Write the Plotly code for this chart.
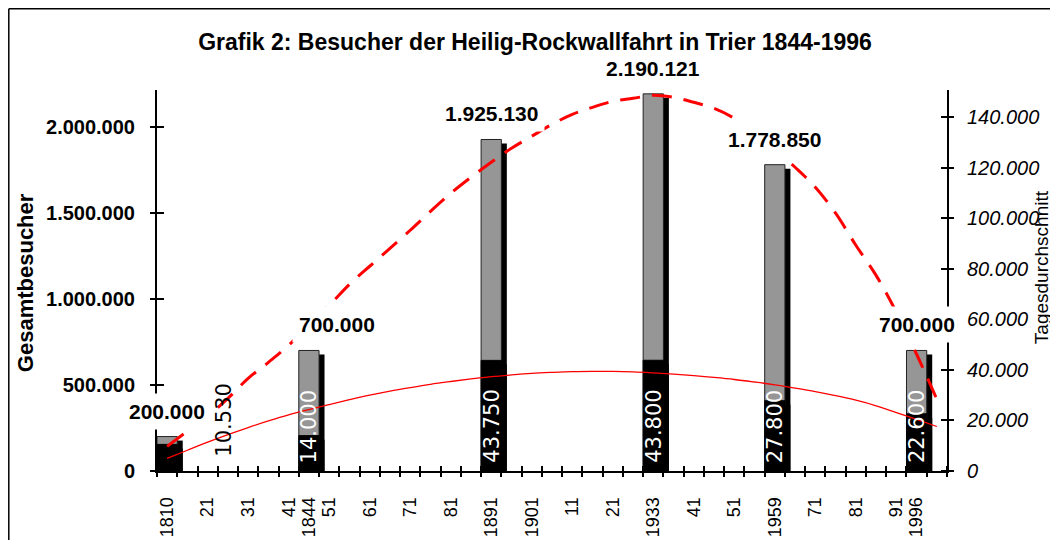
import plotly.graph_objects as go

# Kategorien der x-Achse (ca. 5-Jahres-Schritte, Excel-Beschriftung)
x_labels = ["1810", "", "21", "", "31", "", "41", "1844", "51", "", "61", "", "71", "",
            "81", "", "1891", "", "1901", "", "11", "", "21", "", "1933", "", "41", "",
            "51", "", "1959", "", "71", "", "81", "", "91", "1996", ""]

# Wallfahrtsjahre
jahre = ["1810", "1844", "1891", "1933", "1959", "1996"]
gesamt = [200000, 700000, 1925130, 2190121, 1778850, 700000]
tages = [10530, 14000, 43750, 43800, 27800, 22600]

# Trendlinien (je Kategorie)
trend_gesamt = [143000, 231000, 318000, 422000, 538000, 631000, 730000, 852000, 962000,
                1084000, 1189000, 1293000, 1398000, 1508000, 1613000, 1706000, 1793000,
                1874000, 1944000, 2013000, 2071000, 2112000, 2147000, 2164000, 2182000,
                2170000, 2141000, 2106000, 2048000, 1967000, 1868000, 1764000, 1648000,
                1497000, 1311000, 1136000, 922000, 678000, 416000]
trend_tages = [5000, 8200, 11400, 14400, 17200, 19800, 22200, 24300, 26300, 28200, 30000,
               31600, 33000, 34300, 35400, 36400, 37300, 38000, 38600, 39000, 39300, 39400,
               39400, 39200, 38800, 38300, 37700, 37000, 36200, 35200, 34100, 32800, 31400,
               29800, 28000, 25800, 23100, 20400, 17600]

y1_ticks = [0, 500000, 1000000, 1500000, 2000000]
y2_ticks = [0, 20000, 40000, 60000, 80000, 100000, 120000, 140000]

Y1_MAX = 2212500
Y2_MAX = 150700
PLOT_H = 381
PLOT_W = 790

cats = list(range(1, len(x_labels) + 1))
pos = [x_labels.index(j) + 1 for j in jahre]


def fmt(v):
    return f"{v:,}".replace(",", ".")


FONT = "Liberation Sans, Arial, sans-serif"
GRAU = "#969696"
ROT = "#ff0000"

fig = go.Figure()

# Schatten der grauen Balken
fig.add_trace(go.Bar(x=pos, y=[v - 4 * Y1_MAX / PLOT_H for v in gesamt], width=1, offset=-0.23,
                     marker=dict(color="black", line_width=0), hoverinfo="skip"))
fig.add_trace(go.Bar(x=pos, y=gesamt, width=1, offset=-0.5, name="Gesamtbesucher",
                     marker=dict(color=GRAU, line=dict(color="#222222", width=1))))

# Tagesdurchschnitt (Sekundaerachse)
fig.add_trace(go.Bar(x=pos, y=[v - 4 * Y2_MAX / PLOT_H for v in tages], width=1, offset=-0.23,
                     yaxis="y2", marker=dict(color="black", line_width=0), hoverinfo="skip"))
fig.add_trace(go.Bar(x=pos, y=tages, width=1, offset=-0.5, yaxis="y2", name="Tagesdurchschnitt",
                     marker=dict(color="black", line=dict(color="black", width=1))))

fig.add_trace(go.Scatter(x=cats, y=trend_tages, yaxis="y4", mode="lines",
                         line=dict(color=ROT, width=1.3, shape="spline"), hoverinfo="skip"))
fig.add_trace(go.Scatter(x=cats, y=trend_gesamt, xaxis="x2", yaxis="y3", mode="lines",
                         line=dict(color=ROT, width=3, dash="20px,12px", shape="spline"),
                         hoverinfo="skip"))

ann = []
for j, p, v in zip(jahre, pos, gesamt):
    ann.append(dict(x=p, y=v, xref="x", yref="y", text=fmt(v), showarrow=False,
                    yanchor="bottom", yshift=7, xshift=28 if j == "1844" else 0,
                    bgcolor="white", borderpad=6,
                    font=dict(family=FONT, size=21, weight="bold", color="black")))
for j, p, v in zip(jahre, pos, tages):
    aussen = j == "1810"
    ann.append(dict(x=p, y=0, xref="x", yref="y2", text=fmt(v), showarrow=False,
                    textangle=-90, yanchor="bottom", yshift=12 if aussen else 6,
                    xshift=56 if aussen else 0,
                    font=dict(family="DejaVu Sans, sans-serif", size=21,
                              color="black" if aussen else "white")))

ann.append(dict(x=0, y=0.493, xref="paper", yref="paper", xshift=-132, xanchor="center",
                yanchor="middle", text="Gesamtbesucher", textangle=-90, showarrow=False,
                font=dict(family=FONT, size=22, weight="bold", color="black")))
ann.append(dict(x=1, y=0.535, xref="paper", yref="paper", xshift=94, xanchor="center",
                yanchor="middle", text="Tagesdurchschnitt", textangle=-90, showarrow=False,
                font=dict(family=FONT, size=19, color="black")))

# Rahmen des Diagrammbereichs (links und oben)
shapes = [
    dict(type="line", xref="paper", yref="paper", x0=-148.2 / PLOT_W, x1=-148.2 / PLOT_W,
         y0=462.2 / PLOT_H, y1=-80 / PLOT_H, line=dict(color="black", width=1.5)),
    dict(type="line", xref="paper", yref="paper", x0=-148.2 / PLOT_W, x1=920 / PLOT_W,
         y0=462.2 / PLOT_H, y1=462.2 / PLOT_H, line=dict(color="black", width=1.5)),
]

# Seite hat 8px Rand -> Figur entsprechend kleiner
fig.update_layout(
    width=1050, height=532,
    margin=dict(l=149, r=111, t=82, b=69, autoexpand=False),
    paper_bgcolor="white", plot_bgcolor="white",
    barmode="overlay", showlegend=False, separators=",.",
    font=dict(family=FONT, color="black"),
    title=dict(text="Grafik 2: Besucher der Heilig-Rockwallfahrt in Trier 1844-1996",
               x=527 / 1050, xref="container", xanchor="center",
               y=1 - 34 / 532, yref="container", yanchor="middle",
               font=dict(family=FONT, size=23, weight="bold", color="black")),
    xaxis=dict(range=[0.5, 39.5], tickmode="array", tickvals=cats, ticktext=x_labels,
               tickangle=-90, ticks="", showline=True, linecolor="black", linewidth=2,
               showgrid=False, zeroline=False, tickfont=dict(size=18),
               ticklabelstandoff=17, automargin=False),
    xaxis2=dict(overlaying="x", range=[0.5, 39.5], anchor="free", position=6 / PLOT_H,
                tickmode="array", tickvals=[i + 0.5 for i in range(len(x_labels) + 1)],
                ticks="outside", ticklen=11, tickwidth=2, tickcolor="black",
                showticklabels=False, showline=False, showgrid=False, zeroline=False),
    yaxis=dict(range=[0, Y1_MAX], tickmode="array", tickvals=y1_ticks, tickformat=",d",
               ticks="", showline=True, linecolor="black", linewidth=2, showgrid=False,
               zeroline=False, tickfont=dict(size=20, weight="bold"), ticklabelstandoff=16,
               automargin=False),
    yaxis2=dict(overlaying="y", side="right", range=[0, Y2_MAX], tickmode="array",
                tickvals=y2_ticks, tickformat=",d", ticks="", showline=True,
                linecolor="black", linewidth=2, showgrid=False, zeroline=False,
                tickfont=dict(size=20, style="italic"), ticklabelstandoff=14,
                automargin=False),
    yaxis3=dict(overlaying="y", side="left", range=[0, Y1_MAX], anchor="free",
                position=7 / PLOT_W, tickmode="array", tickvals=y1_ticks, ticks="outside",
                ticklen=14, tickwidth=2, tickcolor="black", showticklabels=False,
                showline=False, showgrid=False, zeroline=False),
    yaxis4=dict(overlaying="y", side="right", range=[0, Y2_MAX], anchor="free",
                position=1 - 7 / PLOT_W, tickmode="array", tickvals=y2_ticks,
                ticks="outside", ticklen=13, tickwidth=2, tickcolor="black",
                showticklabels=False, showline=False, showgrid=False, zeroline=False),
    annotations=ann,
    shapes=shapes,
)

fig.write_html("out.html")
